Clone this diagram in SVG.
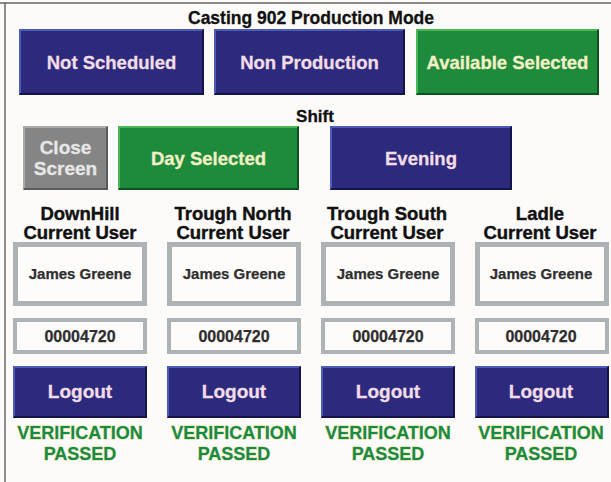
<svg xmlns="http://www.w3.org/2000/svg" width="611" height="482" viewBox="0 0 611 482">
<style>
text{font-family:"Liberation Sans",Arial,sans-serif;font-weight:bold;text-anchor:middle}
.blue{fill:#2b2a7c}
.green{fill:#1d8a3c}
.gray{fill:#858585}
.hlb{fill:none;stroke:#4b5cb8;stroke-width:2}
.shb{fill:none;stroke:#15144a;stroke-width:2}
.hlg{fill:none;stroke:#48b856;stroke-width:2}
.shg{fill:none;stroke:#0e5222;stroke-width:2}
.hlx{fill:none;stroke:#a8a8a8;stroke-width:2}
.shx{fill:none;stroke:#5a5a5a;stroke-width:2}
.tb{fill:#f3dce6;font-size:18.5px;stroke:#f3dce6;stroke-width:0.3}
.tg{fill:#f2f0c4;font-size:18.5px;stroke:#f2f0c4;stroke-width:0.3}
.tx{fill:#e6e6e6;font-size:19px;stroke:#e6e6e6;stroke-width:0.3}
.hdr{fill:#111;font-size:18.5px;stroke:#111;stroke-width:0.4}
.box{fill:#fdfcfb;stroke:#adb2b5}
.name{fill:#2e2e2e;font-size:15px;stroke:#2e2e2e;stroke-width:0.25}
.num{fill:#2e2e2e;font-size:16px;stroke:#2e2e2e;stroke-width:0.25}
.ver{fill:#178a4a;font-size:18px;stroke:#d8d870;stroke-width:0.8;paint-order:stroke}
</style>
<rect x="0" y="0" width="611" height="482" fill="#fdfbfa"/>
<line x1="0" y1="3" x2="611" y2="3" stroke="#8a8a8a" stroke-width="2"/>
<line x1="5" y1="3" x2="5" y2="482" stroke="#6a6a6a" stroke-width="1.5"/>

<g id="title"><text x="311" y="24" style="font-size:17.5px;fill:#111;stroke:#111;stroke-width:0.3">Casting 902 Production Mode</text></g>

<g id="btn-not-scheduled">
<rect class="blue" x="19" y="29" width="185" height="66"/>
<polyline class="hlb" points="20,94 20,30 203,30"/>
<polyline class="shb" points="20,94 203,94 203,30"/>
<text class="tb" x="111.5" y="68.5">Not Scheduled</text>
</g>
<g id="btn-non-production">
<rect class="blue" x="214" y="29" width="191" height="66"/>
<polyline class="hlb" points="215,94 215,30 404,30"/>
<polyline class="shb" points="215,94 404,94 404,30"/>
<text class="tb" x="309.5" y="68.5">Non Production</text>
</g>
<g id="btn-available">
<rect class="green" x="416" y="29" width="183" height="66"/>
<polyline class="hlg" points="417,94 417,30 598,30"/>
<polyline class="shg" points="417,94 598,94 598,30"/>
<text class="tg" x="507.5" y="68.5">Available Selected</text>
</g>

<g id="shift-label"><text x="315" y="122" style="font-size:17px;fill:#111;stroke:#111;stroke-width:0.3">Shift</text></g>

<g id="btn-close">
<rect class="gray" x="23" y="126" width="85" height="64"/>
<polyline class="hlx" points="24,189 24,127 107,127"/>
<polyline class="shx" points="24,189 107,189 107,127"/>
<text class="tx" x="65.5" y="154">Close</text>
<text class="tx" x="65.5" y="175">Screen</text>
</g>
<g id="btn-day">
<rect class="green" x="118" y="126" width="181" height="64"/>
<polyline class="hlg" points="119,189 119,127 298,127"/>
<polyline class="shg" points="119,189 298,189 298,127"/>
<text class="tg" x="208.5" y="164.5">Day Selected</text>
</g>
<g id="btn-evening">
<rect class="blue" x="330" y="126" width="182" height="64"/>
<polyline class="hlb" points="331,189 331,127 511,127"/>
<polyline class="shb" points="331,189 511,189 511,127"/>
<text class="tb" x="421" y="164.5">Evening</text>
</g>

<g id="col-downhill">
<text class="hdr" x="80" y="219.5">DownHill</text>
<text class="hdr" x="80" y="239">Current User</text>
<rect class="box" x="15.5" y="244.5" width="129" height="59" stroke-width="5"/>
<text class="name" x="80" y="279">James Greene</text>
<rect class="box" x="15" y="320" width="130" height="32" stroke-width="4"/>
<text class="num" x="80" y="342">00004720</text>
<rect class="blue" x="13" y="366" width="134" height="52"/>
<polyline class="hlb" points="14,417 14,367 146,367"/>
<polyline class="shb" points="14,417 146,417 146,367"/>
<text class="tb" x="80" y="398" style="font-size:19px">Logout</text>
<text class="ver" x="80" y="438.5">VERIFICATION</text>
<text class="ver" x="80" y="459.5">PASSED</text>
</g>
<g id="col-trough-north">
<text class="hdr" x="233" y="219.5">Trough North</text>
<text class="hdr" x="233" y="239">Current User</text>
<rect class="box" x="169.5" y="244.5" width="129" height="59" stroke-width="5"/>
<text class="name" x="234" y="279">James Greene</text>
<rect class="box" x="169" y="320" width="130" height="32" stroke-width="4"/>
<text class="num" x="234" y="342">00004720</text>
<rect class="blue" x="167" y="366" width="134" height="52"/>
<polyline class="hlb" points="168,417 168,367 300,367"/>
<polyline class="shb" points="168,417 300,417 300,367"/>
<text class="tb" x="234" y="398" style="font-size:19px">Logout</text>
<text class="ver" x="234" y="438.5">VERIFICATION</text>
<text class="ver" x="234" y="459.5">PASSED</text>
</g>
<g id="col-trough-south">
<text class="hdr" x="387" y="219.5">Trough South</text>
<text class="hdr" x="387" y="239">Current User</text>
<rect class="box" x="323.5" y="244.5" width="129" height="59" stroke-width="5"/>
<text class="name" x="388" y="279">James Greene</text>
<rect class="box" x="323" y="320" width="130" height="32" stroke-width="4"/>
<text class="num" x="388" y="342">00004720</text>
<rect class="blue" x="321" y="366" width="134" height="52"/>
<polyline class="hlb" points="322,417 322,367 454,367"/>
<polyline class="shb" points="322,417 454,417 454,367"/>
<text class="tb" x="388" y="398" style="font-size:19px">Logout</text>
<text class="ver" x="388" y="438.5">VERIFICATION</text>
<text class="ver" x="388" y="459.5">PASSED</text>
</g>
<g id="col-ladle">
<text class="hdr" x="540" y="219.5">Ladle</text>
<text class="hdr" x="540" y="239">Current User</text>
<rect class="box" x="477.5" y="244.5" width="129" height="59" stroke-width="5"/>
<text class="name" x="541" y="279">James Greene</text>
<rect class="box" x="477" y="320" width="130" height="32" stroke-width="4"/>
<text class="num" x="541" y="342">00004720</text>
<rect class="blue" x="475" y="366" width="134" height="52"/>
<polyline class="hlb" points="476,417 476,367 608,367"/>
<polyline class="shb" points="476,417 608,417 608,367"/>
<text class="tb" x="541" y="398" style="font-size:19px">Logout</text>
<text class="ver" x="541" y="438.5">VERIFICATION</text>
<text class="ver" x="541" y="459.5">PASSED</text>
</g>
<g id="connectors"/>
</svg>
